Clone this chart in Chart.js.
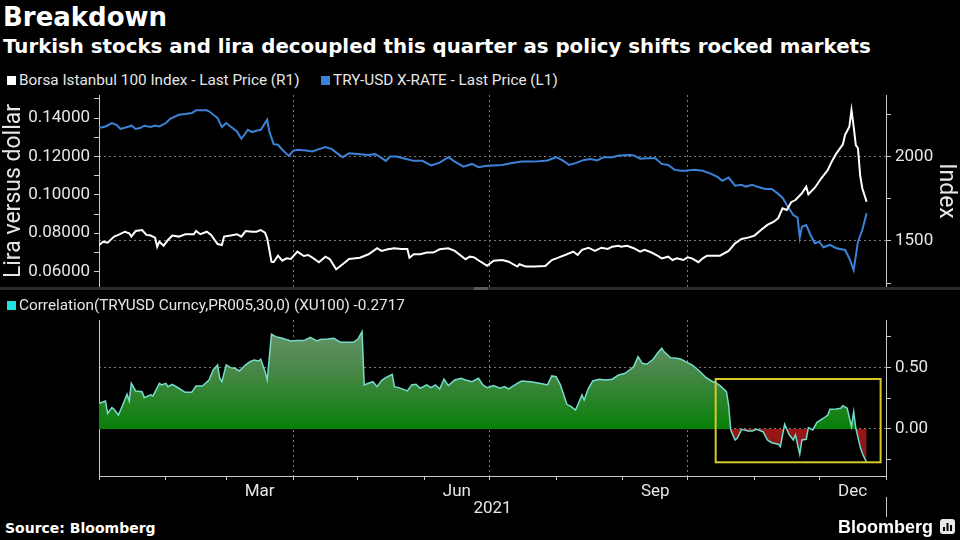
<!DOCTYPE html>
<html><head><meta charset="utf-8">
<script src="https://cdn.jsdelivr.net/npm/chart.js@4.4.1/dist/chart.umd.min.js"></script>
<style>
html,body{margin:0;padding:0;background:#000;}
body{width:960px;height:540px;position:relative;overflow:hidden;color:#fff;}
.abs{position:absolute;white-space:nowrap;}
#title{left:3px;top:1px;font:bold 26px "DejaVu Sans";line-height:32px;}
#subtitle{left:3px;top:35px;font:bold 19.8px "DejaVu Sans";line-height:24px;}
.legend{font:15.3px Roboto;color:#e6e6e6;line-height:16px;}
.sw{display:inline-block;width:9px;height:9px;margin-right:3px;vertical-align:0px;}
#lg1a{left:7px;top:72px;}
#lg1b{left:321px;top:72px;}
#lg2{left:7px;top:297px;}
#topWrap{left:0;top:90px;width:960px;height:200px;}
#botWrap{left:0;top:290px;width:960px;height:230px;}
#sep{left:0;top:287px;width:960px;height:3px;background:#2b2b2b;}
#grip{left:474px;top:287px;width:14px;height:3px;background:#5a5a5a;}
#source{left:5px;top:520px;font:bold 14px "DejaVu Sans";line-height:16px;}
#logo{left:838px;top:517px;font:bold 18px "Liberation Sans";line-height:20px;}
</style></head>
<body>
<div id="title" class="abs">Breakdown</div>
<div id="subtitle" class="abs">Turkish stocks and lira decoupled this quarter as policy shifts rocked markets</div>
<div id="lg1a" class="abs legend"><span class="sw" style="background:#ffffff"></span>Borsa Istanbul 100 Index - Last Price (R1)</div>
<div id="lg1b" class="abs legend"><span class="sw" style="background:#3d82d8"></span>TRY-USD X-RATE - Last Price (L1)</div>
<div id="topWrap" class="abs"><canvas id="topChart"></canvas></div>
<div id="sep" class="abs"></div>
<div id="grip" class="abs"></div>
<div id="lg2" class="abs legend"><span class="sw" style="background:#22e0e0"></span>Correlation(TRYUSD Curncy,PR005,30,0) (XU100) -0.2717</div>
<div id="botWrap" class="abs"><canvas id="botChart"></canvas></div>
<div id="source" class="abs">Source: Bloomberg</div>
<div id="logo" class="abs">Bloomberg</div>
<svg class="abs" style="left:940px;top:519px" width="15" height="15"><rect x="0" y="0" width="15" height="15" rx="3" fill="#e8e8e8"/><rect x="3" y="8" width="2" height="4" fill="#000"/><rect x="6.5" y="4" width="2" height="8" fill="#000"/><rect x="10" y="6" width="2" height="6" fill="#000"/></svg>
<script>
// ---- Data (x = day of year 2021, Jan 1 = 0) ----
const liraDays = [0,3,6,8,10,14,15,17,19,21,24,26,28,31,33,37,40,43,45,50,51,55,57,59,61,64,66,68,69,71,73,75,78,79,81,83,85,88,90,92,96,99,102,105,108,111,113,116,121,
125,128,130,133,135,138,142,146,150,154,158,162,165,169,173,176,180,187,191,196,202,208,212,215,218,221,225,228,231,234,238,241,
242,246,248,251,254,258,261,264,267,270,272,276,280,284,287,289,292,295,298,300,303,305,309,312,315,317,319,322,324,325,326,328,330,332,334,336,339,342,346,348,350,352,354,356];
const liraValues = [0.1348,0.1356,0.1374,0.1365,0.1343,0.1356,0.1361,0.1343,0.1348,0.1360,0.1353,0.1361,0.1356,0.1374,0.1396,0.1417,0.1421,0.1426,0.1440,0.1440,0.1435,0.1400,0.1353,0.1374,0.1356,0.1330,0.1292,0.1322,0.1339,0.1327,0.1334,0.1339,0.1391,0.1330,0.1264,0.1261,0.1235,0.1203,0.1229,0.1235,0.1231,0.1226,0.1238,0.1249,0.1238,0.1212,0.1196,0.1217,0.1212,
0.1208,0.1212,0.1200,0.1177,0.1200,0.1200,0.1188,0.1177,0.1177,0.1153,0.1168,0.1196,0.1173,0.1147,0.1161,0.1144,0.1151,0.1156,0.1165,0.1173,0.1173,0.1179,0.1196,0.1179,0.1156,0.1165,0.1182,0.1186,0.1179,0.1196,0.1196,0.1205,
0.1205,0.1208,0.1205,0.1188,0.1191,0.1191,0.1161,0.1156,0.1130,0.1126,0.1125,0.1130,0.1125,0.1109,0.1092,0.1073,0.1090,0.1048,0.1052,0.1043,0.1052,0.1043,0.1031,0.1031,0.1005,0.0985,0.0947,0.0895,0.0881,0.0777,0.0834,0.0843,0.0791,0.0748,0.0756,0.0727,0.0739,0.0722,0.0713,0.0669,0.0608,0.0756,0.0817,0.0904];

const stockDays = [0,2,4,7,9,12,14,15,17,20,22,24,26,27,28,30,32,34,37,40,44,45,47,50,52,55,57,58,61,64,66,68,71,73,75,77,78,80,81,83,85,87,89,92,95,97,99,102,105,107,110,113,116,121,
125,129,131,134,137,140,143,144,146,149,152,155,158,162,165,170,172,174,177,180,183,187,190,194,195,198,202,207,210,213,217,220,222,224,227,230,233,236,238,241,
242,245,248,251,253,256,259,261,264,266,268,271,273,275,278,280,282,285,288,292,295,298,301,304,307,310,313,315,317,319,321,323,326,328,329,332,335,338,340,342,345,346,348,349,350,351,352,353,354,356];
const stockValues = [1476,1496,1490,1526,1536,1555,1546,1526,1559,1565,1536,1532,1520,1466,1496,1472,1506,1532,1526,1540,1540,1559,1540,1555,1536,1482,1476,1526,1532,1540,1526,1559,1555,1555,1565,1549,1516,1377,1374,1413,1383,1397,1393,1437,1411,1417,1401,1374,1407,1393,1332,1362,1393,1401,
1421,1457,1441,1451,1457,1453,1453,1401,1421,1421,1431,1431,1451,1457,1441,1392,1407,1403,1377,1353,1383,1387,1377,1348,1362,1348,1348,1352,1387,1401,1421,1437,1417,1447,1460,1441,1460,1453,1466,1472,
1466,1472,1457,1437,1447,1433,1413,1397,1407,1387,1397,1387,1403,1397,1374,1397,1413,1413,1413,1441,1486,1512,1520,1532,1565,1595,1614,1635,1694,1684,1730,1743,1783,1822,1777,1816,1872,1921,1975,2020,2074,2129,2178,2277,2178,2069,2050,1891,1813,1733];

const corrDays = [0,3,4,6,7,9,11,13,14,15,17,20,21,24,25,28,29,31,32,34,37,40,43,45,48,51,53,55,56,57,59,61,63,65,68,70,72,74,75,77,78,80,82,85,89,92,95,98,101,103,106,109,112,115,118,120,122,123,125,127,129,131,133,136,137,139,143,145,147,149,152,154,156,158,160,162,165,168,170,173,176,178,180,183,
186,188,190,194,196,200,203,206,208,210,212,214,217,219,221,222,224,225,227,229,232,235,238,241,244,246,248,250,252,254,257,259,261,262,265,268,270,272,275,277,279,281,284,286,288,291,292,293,295,296,298,301,303,305,308,310,312,315,316,317,318,320,322,323,325,326,328,329,331,333,336,338,339,342,344,345,347,349,350,351,353,354,356];
const corrValues = [0.208,0.227,0.127,0.173,0.160,0.113,0.194,0.281,0.227,0.370,0.308,0.302,0.254,0.276,0.267,0.370,0.357,0.370,0.343,0.362,0.330,0.297,0.297,0.348,0.348,0.397,0.478,0.519,0.411,0.383,0.519,0.497,0.492,0.470,0.519,0.546,0.559,0.551,0.565,0.465,0.397,0.767,0.748,0.735,0.713,0.716,0.716,0.743,0.713,0.727,0.729,0.735,0.702,0.702,0.702,0.727,0.789,0.357,0.370,0.383,0.343,0.392,0.416,0.443,0.343,0.335,0.308,0.357,0.362,0.330,0.357,0.335,0.357,0.324,0.405,0.351,0.397,0.411,0.397,0.383,0.411,0.357,0.335,0.351,
0.330,0.343,0.324,0.370,0.389,0.383,0.375,0.365,0.357,0.430,0.424,0.357,0.200,0.181,0.154,0.194,0.276,0.235,0.330,0.389,0.403,0.397,0.403,0.438,0.451,0.478,0.505,0.586,0.532,0.524,0.565,0.613,0.654,0.627,0.578,0.573,0.565,0.546,0.519,0.492,0.459,0.424,0.389,0.375,0.351,0.302,0.194,-0.008,-0.089,-0.075,-0.003,-0.016,-0.016,-0.003,-0.022,-0.089,-0.111,-0.124,-0.143,-0.049,0.038,-0.043,-0.089,-0.049,-0.205,-0.089,-0.084,0.011,-0.008,0.054,0.087,0.113,0.160,0.162,0.168,0.189,0.168,0.019,0.140,0.006,-0.143,-0.197,-0.272];

// ---- Axis ticks ----
const monthStartDays = [0,31,59,90,120,151,181,212,243,273,304,334,365];
const quarterDays = [90,181,273];
const monthLabels = ['Mar','Jun','Sep','Dec'];
const labelMonthIdx = [2,5,8,11];
const liraTicks = [0.06,0.07,0.08,0.09,0.10,0.11,0.12,0.13,0.14,0.15];
const liraLabelTicks = [0.06,0.08,0.10,0.12,0.14];
const indexTicks = [1250,1500,1750,2000,2250];
const indexLabelTicks = [1500,2000];
const corrTicks = [-0.25,0,0.25,0.5,0.75];
const corrLabelTicks = [0,0.5];
const highlightBox = {fromDay: 286, toDay: 362.5, upper: 0.405, lower: -0.27};

// ---- Styling helpers ----
Chart.defaults.font.family = 'Roboto, "Open Sans", sans-serif';
Chart.defaults.color = '#e6e6e6';
const AXIS = '#c8c8c8', GRID = '#7a7a7a', NONE = 'rgba(0,0,0,0)';
const fixW = w => s => { s.width = w; s.paddingTop = 0; s.paddingBottom = 0; s.paddingLeft = 0; s.paddingRight = 0; };
const fixH = h => s => { s.height = h; s.paddingTop = 0; s.paddingBottom = 0; s.paddingLeft = 0; s.paddingRight = 0; };
const setTicks = vals => s => { s.ticks = vals.map(v => ({value: v})); };
const pts = (xs, ys) => xs.map((d, i) => ({x: d, y: ys[i]}));
const labelDays = labelMonthIdx.map(i => (monthStartDays[i] + monthStartDays[i + 1]) / 2);
const xTickDays = monthStartDays.concat(labelDays).sort((a, b) => a - b);

// ---- Top chart ----
new Chart(document.getElementById('topChart'), {
  type: 'line',
  data: { datasets: [
    { label: 'Borsa Istanbul 100 Index - Last Price (R1)', data: pts(stockDays, stockValues), yAxisID: 'yR',
      borderColor: '#ffffff', borderWidth: 2, pointRadius: 0, tension: 0, fill: false },
    { label: 'TRY-USD X-RATE - Last Price (L1)', data: pts(liraDays, liraValues), yAxisID: 'yL',
      borderColor: '#3d82d8', borderWidth: 2, pointRadius: 0, tension: 0, fill: false }
  ]},
  options: {
    responsive: true, maintainAspectRatio: false, animation: false,
    layout: { padding: { top: 5, bottom: 3, left: 0, right: 0 } },
    plugins: { legend: { display: false }, tooltip: { enabled: false } },
    scales: {
      x: { type: 'linear', min: 0, max: 365, afterBuildTicks: setTicks(quarterDays), afterFit: fixH(0),
           ticks: { display: false }, grid: { color: GRID, drawTicks: false }, border: { display: false, dash: [2, 3] } },
      yL: { position: 'left', min: 0.052, max: 0.152, afterBuildTicks: setTicks(liraTicks), afterFit: fixW(99),
            ticks: { autoSkip: false, padding: 4, font: { size: 17 }, callback: v => liraLabelTicks.includes(v) ? v.toFixed(5) : '' },
            grid: { drawOnChartArea: false, tickLength: 5, tickColor: AXIS, color: AXIS },
            border: { color: AXIS },
            title: { display: true, text: 'Lira versus dollar', font: { size: 23 }, color: '#e6e6e6', padding: { top: 0, bottom: 0 } } },
      yR: { position: 'right', min: 1227, max: 2366, afterBuildTicks: setTicks(indexTicks), afterFit: fixW(74),
            ticks: { autoSkip: false, padding: 4, font: { size: 17 }, callback: v => indexLabelTicks.includes(v) ? String(v) : '' },
            grid: { color: c => (c.tick && indexLabelTicks.includes(c.tick.value)) ? GRID : NONE, tickColor: AXIS, tickLength: 5 },
            border: { color: AXIS, dash: [2, 3] },
            title: { display: true, text: 'Index', font: { size: 23 }, color: '#e6e6e6', padding: { top: 0, bottom: 0 } } }
    }
  }
});

// ---- Bottom chart ----
function corrFill(ctx) {
  const chart = ctx.chart, area = chart.chartArea;
  if (!area) return 'rgba(0,128,0,0.7)';
  const z = chart.scales.y.getPixelForValue(0);
  const f = Math.min(0.999, Math.max(0.001, (z - area.top) / (area.bottom - area.top)));
  const g = chart.ctx.createLinearGradient(0, area.top, 0, area.bottom);
  g.addColorStop(0, '#6f9670');
  g.addColorStop(f * 0.45, '#4a874a');
  g.addColorStop(f, '#077f07');
  g.addColorStop(f + 0.001, '#9c1414');
  g.addColorStop(1, '#6a2626');
  return g;
}
const boxPlugin = {
  id: 'highlight',
  afterDatasetsDraw(chart) {
    const {x, y} = chart.scales, c = chart.ctx;
    const x1 = x.getPixelForValue(highlightBox.fromDay), x2 = x.getPixelForValue(highlightBox.toDay);
    const y1 = y.getPixelForValue(highlightBox.upper), y2 = y.getPixelForValue(highlightBox.lower);
    c.save(); c.strokeStyle = '#d8c82c'; c.lineWidth = 2; c.strokeRect(x1, y1, x2 - x1, y2 - y1); c.restore();
  },
  afterDraw(chart) {
    const x = chart.scales.x, c = chart.ctx, px = Math.round(x.getPixelForValue(365)) + 0.5;
    c.save(); c.strokeStyle = AXIS; c.lineWidth = 1; c.beginPath();
    c.moveTo(px, x.top + 21); c.lineTo(px, x.top + 41); c.stroke(); c.restore();
  }
};
new Chart(document.getElementById('botChart'), {
  type: 'line',
  data: { datasets: [
    { label: 'Correlation(TRYUSD Curncy,PR005,30,0) (XU100) -0.2717', data: pts(corrDays, corrValues), yAxisID: 'y',
      borderColor: '#74dccb', borderWidth: 1.5, pointRadius: 0, tension: 0,
      fill: { target: { value: 0 } }, backgroundColor: corrFill }
  ]},
  options: {
    responsive: true, maintainAspectRatio: false, animation: false,
    layout: { padding: { top: 30, bottom: 0, left: 0, right: 0 } },
    plugins: { legend: { display: false }, tooltip: { enabled: false } },
    scales: {
      x: { type: 'linear', min: 0, max: 365, afterBuildTicks: setTicks(xTickDays), afterFit: fixH(44),
           ticks: { autoSkip: false, maxRotation: 0, padding: 2, font: { size: 17 },
                    callback: v => { const k = labelDays.indexOf(v); return k >= 0 ? monthLabels[k] : ''; } },
           grid: { color: c => (c.tick && quarterDays.includes(c.tick.value)) ? GRID : NONE,
                   tickColor: c => (c.tick && monthStartDays.includes(c.tick.value)) ? AXIS : NONE, tickLength: 4 },
           border: { color: AXIS, dash: [2, 3] },
           title: { display: true, text: '2021', font: { size: 17 }, color: '#e6e6e6', padding: { top: 0, bottom: 1 } } },
      yL: { position: 'left', min: -0.381, max: 0.883, afterFit: fixW(99),
            ticks: { display: false }, grid: { display: false }, border: { display: true, color: AXIS } },
      y: { position: 'right', min: -0.381, max: 0.883, afterBuildTicks: setTicks(corrTicks), afterFit: fixW(74),
           ticks: { autoSkip: false, padding: 4, font: { size: 17 }, callback: v => corrLabelTicks.includes(v) ? v.toFixed(2) : '' },
           grid: { color: c => (c.tick && corrLabelTicks.includes(c.tick.value)) ? GRID : NONE, tickColor: AXIS, tickLength: 5 },
           border: { color: AXIS, dash: [2, 3] } }
    }
  },
  plugins: [boxPlugin]
});
</script>
</body></html>
